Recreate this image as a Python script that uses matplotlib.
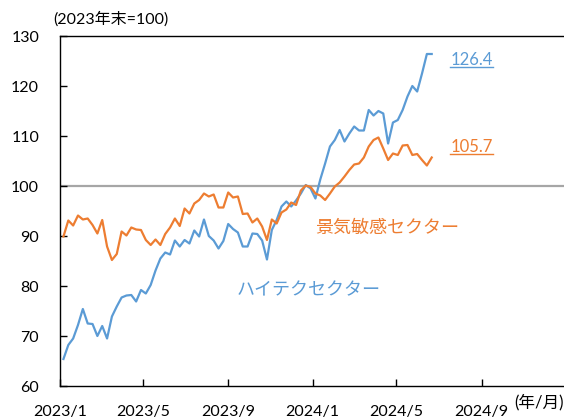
import matplotlib
matplotlib.use('Agg')
import matplotlib.pyplot as plt
import numpy as np
import pandas as pd
from matplotlib.lines import Line2D

plt.rcParams['font.family'] = ['Lato', 'Noto Sans CJK JP']

# weekly index, end of 2023 = 100
dates = pd.date_range('2023-01-06', periods=77, freq='7D')

tech = [65.4, 68.2, 69.5, 72.2, 75.4, 72.5, 72.4, 70.0, 72.0, 69.5,
        73.9, 75.9, 77.7, 78.1, 78.2, 76.9, 79.2, 78.5, 80.2, 83.1,
        85.5, 86.7, 86.3, 89.1, 87.9, 89.2, 88.5, 91.1, 89.9, 93.3,
        90.0, 89.1, 87.5, 89.0, 92.4, 91.4, 90.7, 87.9, 87.9, 90.5,
        90.4, 89.1, 85.3, 91.2, 93.2, 95.9, 96.9, 95.9, 97.1, 98.5,
        100.2, 99.5, 97.5, 101.3, 104.5, 107.9, 109.2, 111.2, 108.9, 110.5,
        111.9, 111.1, 111.1, 115.2, 114.1, 115.0, 114.5, 108.5, 112.7, 113.2,
        115.2, 117.9, 120.0, 118.9, 122.5, 126.4, 126.4]

cyclical = [89.9, 93.1, 92.1, 94.1, 93.3, 93.5, 92.2, 90.5, 93.2, 87.9,
            85.2, 86.4, 90.9, 90.1, 91.7, 91.3, 91.2, 89.2, 88.2, 89.3,
            88.2, 90.4, 91.7, 93.5, 92.0, 95.5, 94.5, 96.5, 97.2, 98.5,
            97.9, 98.3, 95.7, 95.7, 98.7, 97.7, 97.9, 94.4, 94.5, 92.7,
            93.5, 91.9, 89.2, 93.3, 92.5, 94.7, 95.3, 96.7, 96.2, 99.1,
            100.1, 99.8, 98.5, 98.1, 97.2, 98.5, 99.9, 100.7, 101.9, 103.2,
            104.3, 104.5, 105.7, 107.9, 109.2, 109.7, 107.5, 105.2, 106.5, 106.2,
            108.1, 108.2, 106.2, 106.4, 105.2, 104.1, 105.7]

tick_dates = pd.to_datetime(['2023-01-01', '2023-05-01', '2023-09-01',
                             '2024-01-01', '2024-05-01', '2024-09-01'])
tick_labels = ['2023/1', '2023/5', '2023/9', '2024/1', '2024/5', '2024/9']

blue = '#5B9BD5'
orange = '#ED7D31'

fig = plt.figure(figsize=(5.64, 4.19), dpi=100)
ax = fig.add_axes([60 / 564, 33 / 419, 506 / 564, 350 / 419])

ax.axhline(100, color='#A6A6A6', lw=1.6, zorder=1)
ax.plot(dates, tech, color=blue, lw=1.6, zorder=2)
ax.plot(dates, cyclical, color=orange, lw=1.6, zorder=3)

ax.set_xlim(pd.Timestamp('2023-01-01'), pd.Timestamp('2025-01-01'))
ax.set_ylim(60, 130)
ax.set_yticks(np.arange(60, 131, 10))
ax.set_xticks(tick_dates)
ax.set_xticklabels(tick_labels)
ax.tick_params(axis='both', direction='in', length=5, width=1, labelsize=11.5)
ax.tick_params(axis='y', pad=15)
ax.tick_params(axis='x', pad=14)
for s in ax.spines.values():
    s.set_color('black')
    s.set_linewidth(1)

ax.text(pd.Timestamp('2024-01-04'), 91.6, '景気敏感セクター', color=orange,
        fontsize=13, va='center', family=['Noto Sans CJK JP'])
ax.text(pd.Timestamp('2023-09-13'), 79.2, 'ハイテクセクター', color=blue,
        fontsize=13, va='center', family=['Noto Sans CJK JP'])
t1 = ax.text(pd.Timestamp('2024-07-18'), 125.2, '126.4', color=blue,
             fontsize=12, va='center')
t2 = ax.text(pd.Timestamp('2024-07-18'), 107.8, '105.7', color=orange,
             fontsize=12, va='center')

fig.text(53 / 564, 1 - 19 / 419, '(2023年末=100)', fontsize=11.5, va='center', ha='left')
fig.text(1.0, 1 - 402 / 419, '(年/月)', fontsize=12, va='center', ha='right')

# underline the end values
fig.canvas.draw()
r = fig.canvas.get_renderer()
for t in (t1, t2):
    bb = t.get_window_extent(r).transformed(fig.transFigure.inverted())
    fig.add_artist(Line2D([bb.x0, bb.x1], [bb.y0 + 0.002, bb.y0 + 0.002],
                          transform=fig.transFigure, color=t.get_color(), lw=1))

fig.savefig('out.png', dpi=100)
